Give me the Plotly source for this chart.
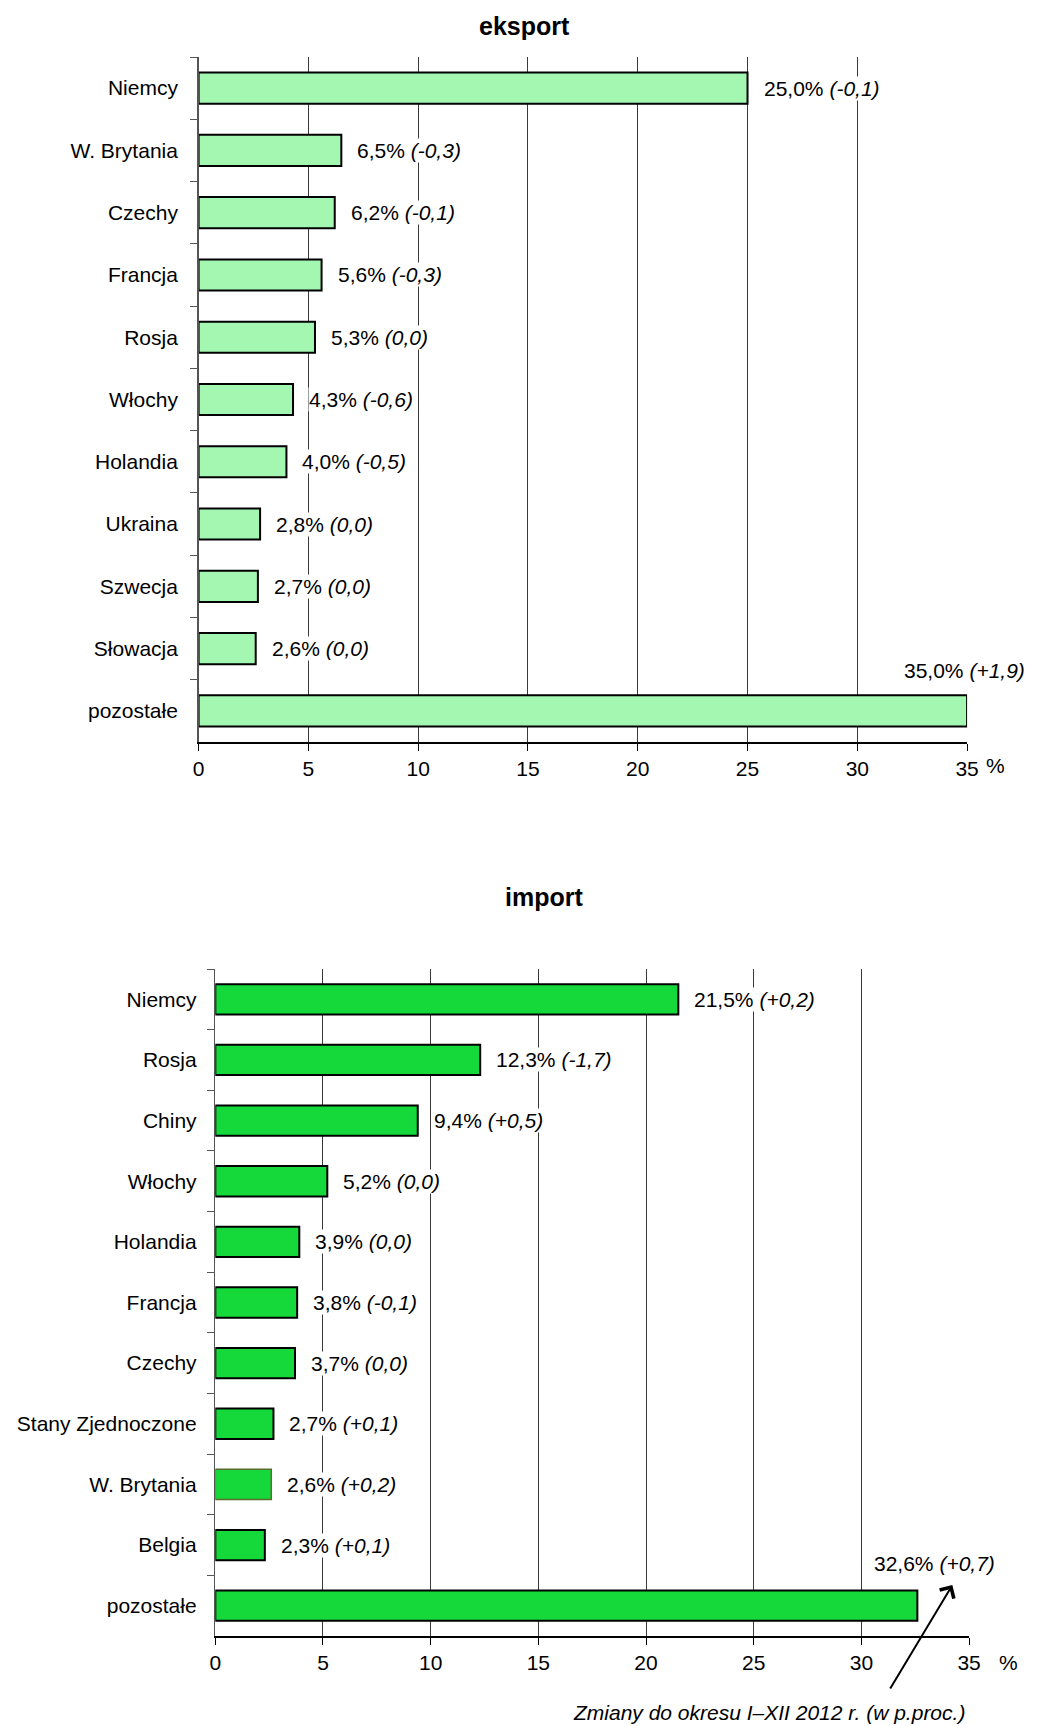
import plotly.graph_objects as go

# ---- data ----
exp_countries = ["Niemcy", "W. Brytania", "Czechy", "Francja", "Rosja", "Włochy",
                 "Holandia", "Ukraina", "Szwecja", "Słowacja", "pozostałe"]
exp_values = [25.0, 6.5, 6.2, 5.6, 5.3, 4.3, 4.0, 2.8, 2.7, 2.6, 35.0]
exp_changes = ["-0,1", "-0,3", "-0,1", "-0,3", "0,0", "-0,6", "-0,5", "0,0", "0,0", "0,0", "+1,9"]

imp_countries = ["Niemcy", "Rosja", "Chiny", "Włochy", "Holandia", "Francja", "Czechy",
                 "Stany Zjednoczone", "W. Brytania", "Belgia", "pozostałe"]
imp_values = [21.5, 12.3, 9.4, 5.2, 3.9, 3.8, 3.7, 2.7, 2.6, 2.3, 32.6]
imp_changes = ["+0,2", "-1,7", "+0,5", "0,0", "0,0", "-0,1", "0,0", "+0,1", "+0,2", "+0,1", "+0,7"]

x_ticks = [0, 5, 10, 15, 20, 25, 30, 35]

FONT = "Arial, Liberation Sans, sans-serif"
FS = 21
W, H = 1041, 1726

fig = go.Figure()

imp_line_colors = ["#000000"] * len(imp_countries)
imp_line_widths = [2] * len(imp_countries)
imp_line_colors[imp_countries.index("W. Brytania")] = "#5b6b2b"
imp_line_widths[imp_countries.index("W. Brytania")] = 1.5

fig.add_trace(go.Bar(
    x=exp_values, y=exp_countries, orientation="h", width=0.5,
    marker=dict(color="#a3f7b1", line=dict(color="#000000", width=2)),
    xaxis="x", yaxis="y", hoverinfo="skip", showlegend=False))

fig.add_trace(go.Bar(
    x=imp_values, y=imp_countries, orientation="h", width=0.5,
    marker=dict(color="#15d83a", line=dict(color=imp_line_colors, width=imp_line_widths)),
    xaxis="x2", yaxis="y2", hoverinfo="skip", showlegend=False))


def fmt(v, c):
    return f"{v:.1f}".replace(".", ",") + "% <i>(" + c + ")</i>"


annotations = []
for xref, yref, cats, vals, chs in [("x", "y", exp_countries, exp_values, exp_changes),
                                      ("x2", "y2", imp_countries, imp_values, imp_changes)]:
    for i, (cat, v, c) in enumerate(zip(cats, vals, chs)):
        if cat == "pozostałe":
            annotations.append(dict(
                x=v, y=cat, xref=xref, yref=yref, text=fmt(v, c), showarrow=False,
                xanchor="center", yanchor="middle",
                yshift=40 if xref == "x" else 42,
                xshift=-3 if xref == "x" else 17,
                font=dict(family=FONT, size=FS, color="#000"), bgcolor="white", borderpad=0))
        else:
            annotations.append(dict(
                x=v, y=cat, xref=xref, yref=yref, text=fmt(v, c), showarrow=False,
                xanchor="left", yanchor="middle", xshift=15,
                font=dict(family=FONT, size=FS, color="#000"), bgcolor="white", borderpad=0))

# titles
annotations.append(dict(x=528 / W, y=1 - 26 / H, xref="paper", yref="paper", text="<b>eksport</b>",
                        showarrow=False, xanchor="center", yanchor="middle",
                        font=dict(family=FONT, size=25, color="#000")))
annotations.append(dict(x=547 / W, y=1 - 897 / H, xref="paper", yref="paper", text="<b>import</b>",
                        showarrow=False, xanchor="center", yanchor="middle",
                        font=dict(family=FONT, size=25, color="#000")))
# % units
annotations.append(dict(x=1007 / W, y=1 - 765 / H, xref="paper", yref="paper", text="%",
                        showarrow=False, xanchor="center", yanchor="middle",
                        font=dict(family=FONT, size=FS, color="#000")))
annotations.append(dict(x=1020 / W, y=1 - 1662 / H, xref="paper", yref="paper", text="%",
                        showarrow=False, xanchor="center", yanchor="middle",
                        font=dict(family=FONT, size=FS, color="#000")))
# note + arrow
annotations.append(dict(x=776 / W, y=1 - 1712 / H, xref="paper", yref="paper",
                        text="<i>Zmiany do okresu I–XII 2012 r. (w p.proc.)</i>",
                        showarrow=False, xanchor="center", yanchor="middle",
                        font=dict(family=FONT, size=FS, color="#000")))
annotations.append(dict(x=963 / W, y=1 - 1585 / H, xref="paper", yref="paper", text="",
                        showarrow=True, ax=-63, ay=105, arrowhead=4, arrowsize=1.6,
                        arrowwidth=2, arrowcolor="#000"))

xaxis_common = dict(range=[0, 35], tickvals=x_ticks, ticktext=[str(t) for t in x_ticks],
                    showgrid=True, gridcolor="#3a3a3a", gridwidth=1, zeroline=False,
                    showline=True, linecolor="#000", linewidth=1.5,
                    ticks="outside", ticklen=7, tickcolor="#000",
                    tickfont=dict(family=FONT, size=FS, color="#000"), fixedrange=True)
yaxis_common = dict(showline=True, linecolor="#555", linewidth=1.5, ticks="outside",
                    tickson="boundaries", ticklen=7, tickcolor="#555",
                    tickfont=dict(family=FONT, size=FS, color="#000"),
                    showgrid=False, zeroline=False, fixedrange=True)

fig.update_layout(
    width=W, height=H, autosize=False,
    margin=dict(l=0, r=0, t=0, b=0),
    paper_bgcolor="white", plot_bgcolor="white",
    xaxis=dict(domain=[196 / W, 978 / W], anchor="y", **xaxis_common),
    yaxis=dict(domain=[1 - 742 / H, 1 - 57 / H], anchor="x",
               categoryorder="array", categoryarray=exp_countries,
               range=[len(exp_countries) - 0.5, -0.5], ticklabelstandoff=15, **yaxis_common),
    xaxis2=dict(domain=[213 / W, 980 / W], anchor="y2", **xaxis_common),
    yaxis2=dict(domain=[1 - 1636 / H, 1 - 969 / H], anchor="x2",
                categoryorder="array", categoryarray=imp_countries,
                range=[len(imp_countries) - 0.5, -0.5], ticklabelstandoff=13, **yaxis_common),
    annotations=annotations,
    font=dict(family=FONT, color="#000"),
)

post = ("document.body.style.margin='0';"
        "document.documentElement.style.overflow='hidden';"
        "document.body.style.overflow='hidden';")

fig.write_html("out.html",
               config={"responsive": False, "displayModeBar": False, "staticPlot": True},
               post_script=post)
